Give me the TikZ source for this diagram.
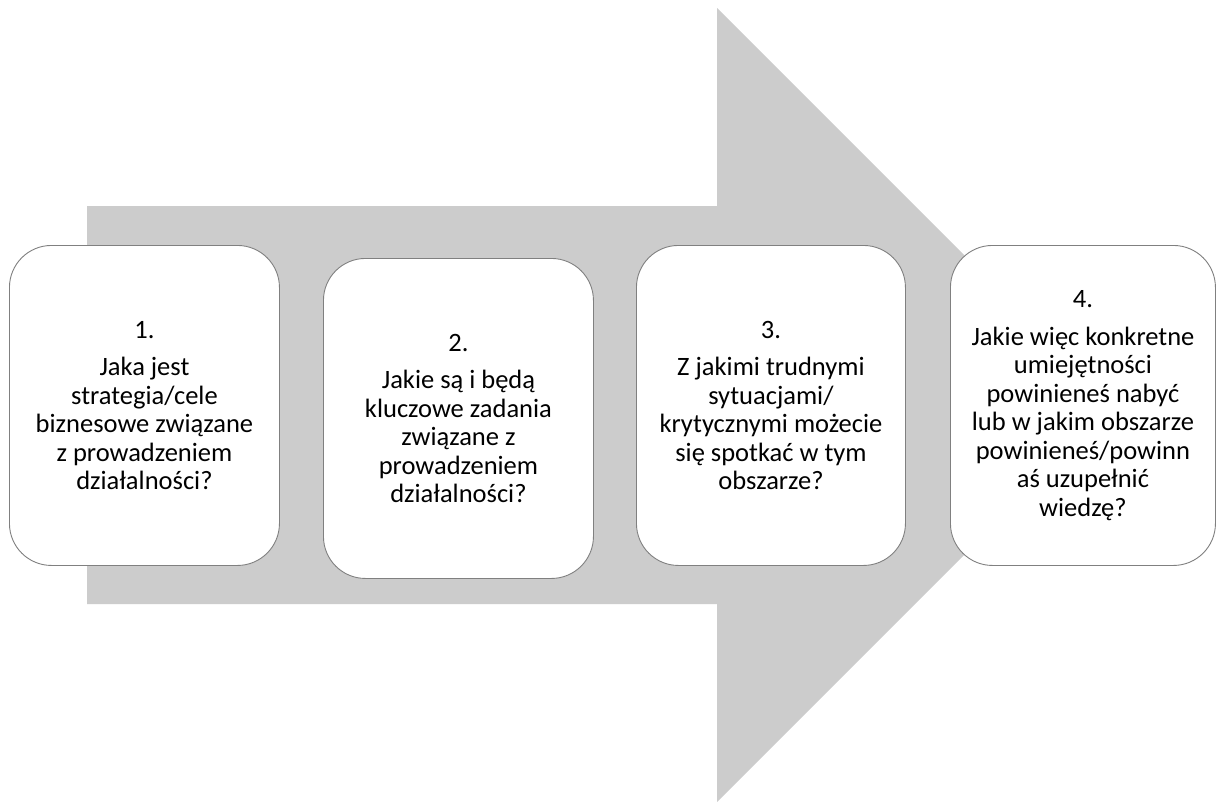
\documentclass[tikz,border=0pt]{standalone}
\usepackage{fontspec}
\setmainfont{Carlito}
\begin{document}
\begin{tikzpicture}[x=1pt,y=-1pt,
  stepbox/.style={draw=black!50, line width=0.9pt, fill=white, rounded corners=42pt,
    minimum width=270pt, minimum height=320pt, align=center, inner sep=0pt,
    font=\fontsize{26.5}{28.5}\selectfont, anchor=north west},
  arrowfill/.style={fill=black!20, draw=none}]
\useasboundingbox (0,0) rectangle (1216,801);
\fill[white] (0,0) rectangle (1216,801);
\path[arrowfill] (87,206) -- (717,206) -- (717,8) -- (1114,405) -- (717,802) -- (717,604) -- (87,604) -- cycle;
\node[stepbox] (b1) at (9,245) {1.\\[9pt]Jaka jest\\strategia/cele\\biznesowe związane\\z prowadzeniem\\działalności?};
\node[stepbox] (b2) at (323,258) {2.\\[9pt]Jakie są i będą\\kluczowe zadania\\związane z\\prowadzeniem\\działalności?};
\node[stepbox, minimum width=269pt] (b3) at (636,245) {3.\\[9pt]Z jakimi trudnymi\\sytuacjami/\\krytycznymi możecie\\się spotkać w tym\\obszarze?};
\node[stepbox, minimum width=265pt] (b4) at (950,245) {4.\\[9pt]Jakie więc konkretne\\umiejętności\\powinieneś nabyć\\lub w jakim obszarze\\powinieneś/powinn\\aś uzupełnić\\wiedzę?};
\end{tikzpicture}
\end{document}
